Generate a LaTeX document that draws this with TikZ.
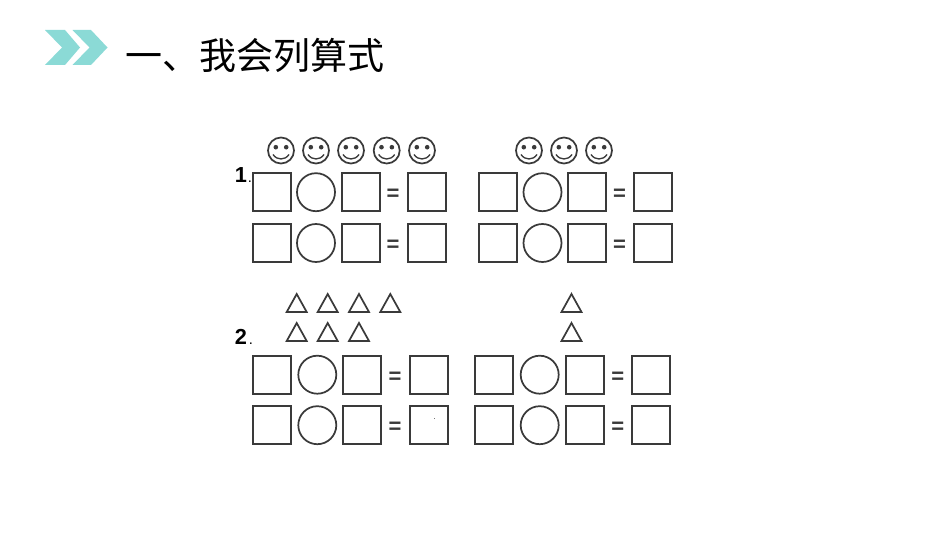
\documentclass[tikz,border=0pt]{standalone}
\usepackage{fontspec}
\setmainfont{Liberation Sans}
\newfontfamily\cjkfont{Noto Sans CJK SC}
\definecolor{inkline}{HTML}{3A3A3A}
\definecolor{chev}{HTML}{8BDAD6}
\tikzset{
  answerbox/.style={draw=inkline,line width=1.4pt,rectangle,inner sep=0pt,minimum size=28.5pt},
  opcircle/.style={draw=inkline,line width=1.3pt,circle,inner sep=0pt,minimum size=28.5pt},
  eqsign/.style={inner sep=0pt,text=inkline,yshift=-2pt,font=\fontsize{16.5pt}{16.5pt}\selectfont\bfseries},
  facecircle/.style={draw=inkline,line width=1.3pt,circle,inner sep=0pt,minimum size=19.5pt},
  tri/.style={draw=inkline,line width=1.3pt,line join=miter},
  numlabel/.style={inner sep=0pt,anchor=base west,text=black,font=\fontsize{16.3pt}{16.3pt}\selectfont\bfseries},
  dotlabel/.style={inner sep=0pt,anchor=base west,text=black,font=\fontsize{11pt}{11pt}\selectfont},
  titletext/.style={inner sep=0pt,anchor=west,text=black,font=\fontsize{27.75pt}{28pt}\selectfont\cjkfont},
}
\newcommand{\eqrow}[7]{%
  \node[answerbox] (#1a) at (#2,#7) {};
  \node[opcircle] (#1o) at (#3,#7) {};
  \node[answerbox] (#1b) at (#4,#7) {};
  \node[eqsign] (#1e) at (#5,#7) {=};
  \node[answerbox] (#1c) at (#6,#7) {};
}
\newcommand{\smiley}[2]{%
  \node[facecircle] (s#1) at (#2,150.5) {};
  \fill[inkline] (#2-5.2,147.2) circle[radius=2.3];
  \fill[inkline] (#2+5.2,147.2) circle[radius=2.3];
  \draw[inkline,line width=1pt] (#2-8,154.5) .. controls (#2-4,160.5) and (#2+4,160.5) .. (#2+8,154.5);
}
\newcommand{\triang}[3]{%
  \draw[tri] (#2,#3) -- ++(10,18) -- ++(-20,0) -- cycle;
}
\begin{document}
\begin{tikzpicture}[x=.75pt,y=-.75pt]
\useasboundingbox (0,0) rectangle (950,535);
\fill[chev] (45,30) -- (65,30) -- (80,47.5) -- (65,65) -- (45,65) -- (62,47.5) -- cycle;
\fill[chev] (72.5,30) -- (91,30) -- (107.5,47.5) -- (91,65) -- (72.5,65) -- (89.5,47.5) -- cycle;
\node[titletext] (title) at (125,55) {一、我会列算式};
\smiley{a}{281}
\smiley{b}{316}
\smiley{c}{351}
\smiley{d}{386.7}
\smiley{e}{422}
\smiley{f}{529}
\smiley{g}{564}
\smiley{h}{599}
\node[numlabel] (n1) at (234.5,182.5) {1};
\node[dotlabel] (d1) at (247.5,182.5) {.};
\eqrow{p}{271.7}{316}{360.8}{393}{426.7}{192.2}
\eqrow{q}{271.7}{316}{360.8}{393}{426.7}{243}
\eqrow{r}{498.2}{542.5}{587.3}{619.5}{653.2}{192.2}
\eqrow{s}{498.2}{542.5}{587.3}{619.5}{653.2}{243}
\triang{a}{296.7}{294}
\triang{b}{327.7}{294}
\triang{c}{359}{294}
\triang{d}{390.3}{294}
\triang{e}{296.7}{323}
\triang{f}{327.7}{323}
\triang{g}{359}{323}
\triang{h}{571.5}{294}
\triang{i}{571.5}{323}
\node[numlabel] (n2) at (234.5,344) {2};
\node[dotlabel] (d2) at (248.5,344) {.};
\eqrow{t}{272.2}{317.3}{362.2}{395}{429}{374.7}
\eqrow{u}{272.2}{317.3}{362.2}{395}{429}{425.2}
\eqrow{v}{494.2}{539.7}{584.8}{617.7}{651}{374.7}
\eqrow{w}{494.2}{539.7}{584.8}{617.7}{651}{425.2}
\fill[inkline!70] (434.3,417.5) rectangle (434.9,419);
\end{tikzpicture}
\end{document}
